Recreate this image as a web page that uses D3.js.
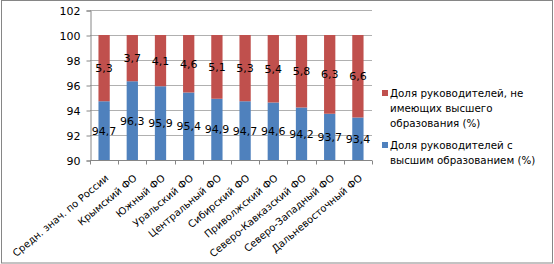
<!DOCTYPE html>
<html lang="ru">
<head>
<meta charset="utf-8">
<script src="https://d3js.org/d3.v7.min.js"></script>
<style>
  body { margin: 0; background: #fff; }
</style>
</head>
<body>
<script>
// data
const categories = ["Средн. знач. по России", "Крымский ФО", "Южный ФО", "Уральский ФО",
  "Центральный ФО", "Сибирский ФО", "Приволжский ФО", "Северо-Кавказский ФО",
  "Северо-Западный ФО", "Дальневосточный ФО"];
const withHigher = [94.7, 96.3, 95.9, 95.4, 94.9, 94.7, 94.6, 94.2, 93.7, 93.4];
const withoutHigher = [5.3, 3.7, 4.1, 4.6, 5.1, 5.3, 5.4, 5.8, 6.3, 6.6];
const yTicks = [90, 92, 94, 96, 98, 100, 102];
const legendItems = [
  { lines: ["Доля руководителей, не", "имеющих высшего", "образования (%)"], color: "#C0504D" },
  { lines: ["Доля руководителей с", "высшим образованием (%)"], color: "#4F81BD" }
];

const W = 554, H = 264;
const plot = { left: 90, right: 372, top: 10, bottom: 160 };
const fmt = v => String(v).replace(".", ",");

const svg = d3.select("body").append("svg")
  .attr("width", W).attr("height", H);

// outer frame
svg.append("rect")
  .attr("x", 1.5).attr("y", 0.5).attr("width", W - 3).attr("height", H - 1.5)
  .attr("fill", "#fff").attr("stroke", "#868686").attr("stroke-width", 1);

const x = d3.scaleBand().domain(categories).range([plot.left, plot.right]).paddingInner(0.6).paddingOuter(0.3);
const xb = d3.scaleBand().domain(categories).range([plot.left, plot.right]);
const y = d3.scaleLinear().domain([90, 102]).range([plot.bottom, plot.top]);

// gridlines
svg.append("g").selectAll("line").data(yTicks.filter(t => t > 90)).enter().append("line")
  .attr("x1", plot.left).attr("x2", plot.right)
  .attr("y1", d => Math.round(y(d)) + 0.5).attr("y2", d => Math.round(y(d)) + 0.5)
  .attr("stroke", "#b0b0b0");

// y axis
const yAxis = svg.append("g")
  .attr("transform", `translate(${plot.left + 0.5},0.5)`)
  .call(d3.axisLeft(y).tickValues(yTicks).tickSize(4).tickPadding(6));
yAxis.select(".domain").attr("stroke", "#868686");
yAxis.selectAll(".tick line").attr("stroke", "#868686");
yAxis.selectAll("text").attr("font-family", "DejaVu Sans").attr("font-size", 11).attr("fill", "#000");

// bars
const rows = categories.map((c, i) => ({ c, a: withHigher[i], b: withoutHigher[i] }));
const g = svg.append("g");
g.selectAll(".blue").data(rows).enter().append("rect")
  .attr("x", d => x(d.c)).attr("width", x.bandwidth())
  .attr("y", d => y(d.a)).attr("height", d => y(90) - y(d.a))
  .attr("fill", "#4F81BD");
g.selectAll(".red").data(rows).enter().append("rect")
  .attr("x", d => x(d.c)).attr("width", x.bandwidth())
  .attr("y", d => y(d.a + d.b)).attr("height", d => y(d.a) - y(d.a + d.b))
  .attr("fill", "#C0504D");

// value labels
const lab = svg.append("g").attr("font-family", "DejaVu Sans").attr("font-size", 11)
  .attr("text-anchor", "middle").attr("fill", "#000");
lab.selectAll(".la").data(rows).enter().append("text")
  .attr("x", d => x(d.c) + x.bandwidth() / 2)
  .attr("y", d => (y(90) + y(d.a)) / 2 + 4)
  .text(d => fmt(d.a));
lab.selectAll(".lb").data(rows).enter().append("text")
  .attr("x", d => x(d.c) + x.bandwidth() / 2)
  .attr("y", d => (y(d.a) + y(d.a + d.b)) / 2 + 4)
  .text(d => fmt(d.b));

// x axis
const xAxis = svg.append("g").attr("transform", `translate(0,${plot.bottom + 0.5})`);
xAxis.append("line").attr("x1", plot.left).attr("x2", plot.right).attr("stroke", "#868686");
xAxis.selectAll(".tk").data(categories.concat([null])).enter().append("line")
  .attr("x1", (d, i) => Math.round(plot.left + i * xb.step()) + 0.5)
  .attr("x2", (d, i) => Math.round(plot.left + i * xb.step()) + 0.5)
  .attr("y1", 0).attr("y2", 4).attr("stroke", "#868686");
xAxis.selectAll("text").data(categories).enter().append("text")
  .attr("transform", d => `translate(${xb(d) + xb.bandwidth() / 2 + 3},16) rotate(-40)`)
  .attr("text-anchor", "end").attr("dy", "0.35em")
  .attr("font-family", "DejaVu Sans").attr("font-size", 10).attr("fill", "#000")
  .text(d => d);

// legend
const leg = svg.append("g").attr("font-family", "DejaVu Sans").attr("font-size", 10.3).attr("fill", "#000");
let ly = 93;
legendItems.forEach(item => {
  leg.append("rect").attr("x", 382).attr("y", ly - 3).attr("width", 6).attr("height", 6).attr("fill", item.color);
  item.lines.forEach((t, j) => {
    leg.append("text").attr("x", 390).attr("y", ly + j * 15 + 4).text(t);
  });
  ly += item.lines.length * 15 + 7;
});
</script>
</body>
</html>
